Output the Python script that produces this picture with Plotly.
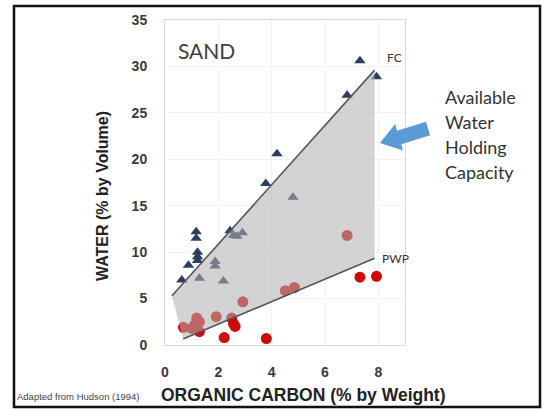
import plotly.graph_objects as go

# ---- data ----
fc_x = [0.63, 0.88, 1.17, 1.17, 1.22, 1.22, 1.22, 1.29, 1.88, 1.88, 2.19, 2.44, 2.57, 2.70, 2.90,
        3.78, 4.20, 4.80, 6.83, 7.31, 7.93]
fc_y = [7.0, 8.6, 12.2, 11.5, 10.0, 9.5, 9.1, 7.2, 9.0, 8.5, 6.9, 12.3, 11.8, 11.7, 12.1,
        17.4, 20.6, 15.9, 26.9, 30.6, 28.9]

pwp_x = [0.69, 1.00, 1.12, 1.19, 1.29, 1.29, 1.92, 2.22, 2.50, 2.57, 2.63, 2.92, 3.80,
         4.51, 4.85, 6.83, 7.31, 7.93]
pwp_y = [1.9, 1.8, 2.2, 2.9, 2.5, 1.45, 3.05, 0.8, 2.9, 2.3, 2.0, 4.65, 0.7,
         5.85, 6.2, 11.8, 7.3, 7.4]

# boundary lines of the available-water band
fc_line_x = [0.26, 7.86]
fc_line_y = [5.3, 29.6]
pwp_line_x = [0.68, 7.86]
pwp_line_y = [0.65, 9.35]

x_ticks = [0, 2, 4, 6, 8]
y_ticks = [0, 5, 10, 15, 20, 25, 30, 35]

# ---- layout geometry (pixels) ----
W, H = 548, 409
L, R, T, B = 165, 405, 20, 345


def px(xp):
    return (xp - L) / (R - L)


def py(yp):
    return (B - yp) / (B - T)


fig = go.Figure()

fig.add_trace(go.Scatter(x=fc_x, y=fc_y, mode="markers",
                         marker=dict(symbol="triangle-up", size=10, color="#2b3f5c"),
                         hoverinfo="skip", showlegend=False))
fig.add_trace(go.Scatter(x=pwp_x, y=pwp_y, mode="markers",
                         marker=dict(symbol="circle", size=11, color="#cc0a0a"),
                         hoverinfo="skip", showlegend=False))

# shaded band drawn over the markers (semi-transparent)
band_x = fc_line_x + pwp_line_x[::-1] + [fc_line_x[0]]
band_y = fc_line_y + pwp_line_y[::-1] + [fc_line_y[0]]
fig.add_trace(go.Scatter(x=band_x, y=band_y, mode="lines", fill="toself",
                         fillcolor="rgba(176,176,176,0.56)", line=dict(width=0),
                         hoverinfo="skip", showlegend=False))
fig.add_trace(go.Scatter(x=fc_line_x, y=fc_line_y, mode="lines",
                         line=dict(color="#555555", width=1.6),
                         hoverinfo="skip", showlegend=False))
fig.add_trace(go.Scatter(x=pwp_line_x, y=pwp_line_y, mode="lines",
                         line=dict(color="#555555", width=1.6),
                         hoverinfo="skip", showlegend=False))

# arrow (pixel geometry -> paper coords)
arrow_pts = [(380, 143), (403.0, 150.5), (401.2, 144.2), (430.1, 135.2), (425.9, 121.8),
             (397.0, 130.8), (395.2, 124.0)]
path = "M " + " L ".join(f"{px(a):.4f},{py(b):.4f}" for a, b in arrow_pts) + " Z"

shapes = [
    dict(type="path", xref="paper", yref="paper", path=path,
         fillcolor="#5b9bd5", line=dict(width=0)),
    dict(type="rect", xref="paper", yref="paper",
         x0=px(14), x1=px(540), y0=py(407), y1=py(6),
         line=dict(color="#111111", width=2.5)),
]

axis_font = dict(family="Liberation Sans, Arial", size=14, color="#3a3a3a", weight="bold")
annotations = [
    dict(text="SAND", x=px(176), y=py(50), xref="paper", yref="paper", xanchor="left",
         yanchor="middle", showarrow=False,
         font=dict(family="Lato, Open Sans", size=21, color="#404040")),
    dict(text="FC", x=px(385), y=py(58), xref="paper", yref="paper", xanchor="left",
         yanchor="middle", showarrow=False,
         font=dict(family="Lato, Open Sans", size=12, color="#333333")),
    dict(text="PWP", x=px(380), y=py(258), xref="paper", yref="paper", xanchor="left",
         yanchor="middle", showarrow=False,
         font=dict(family="Lato, Open Sans", size=12, color="#333333")),
    dict(text="WATER (% by Volume)", x=px(102), y=py(196), xref="paper", yref="paper",
         textangle=-90, xanchor="center", yanchor="middle", showarrow=False,
         font=dict(family="Liberation Sans, Arial", size=16, color="#222222", weight="bold")),
    dict(text="ORGANIC CARBON (% by Weight)", x=px(303), y=py(395), xref="paper",
         yref="paper", xanchor="center", yanchor="middle", showarrow=False,
         font=dict(family="Liberation Sans, Arial", size=17.5, color="#222222", weight="bold")),
    dict(text="Adapted from Hudson (1994)", x=px(15), y=py(396), xref="paper", yref="paper",
         xanchor="left", yanchor="middle", showarrow=False,
         font=dict(family="Liberation Sans Narrow, Liberation Sans", size=9.5, color="#444444")),
]
for i, word in enumerate(["Available", "Water", "Holding", "Capacity"]):
    annotations.append(dict(text=word, x=px(443), y=py(97 + 25 * i), xref="paper",
                            yref="paper", xanchor="left", yanchor="middle", showarrow=False,
                            font=dict(family="Lato, Open Sans", size=18, color="#333333")))

fig.update_layout(
    width=W, height=H,
    margin=dict(l=L, r=W - R, t=T, b=H - B),
    paper_bgcolor="white", plot_bgcolor="white",
    shapes=shapes, annotations=annotations,
    xaxis=dict(range=[0, 9], tickvals=x_ticks, ticktext=[str(v) for v in x_ticks],
               showgrid=True, gridcolor="#f1f1f1", zeroline=False,
               showline=True, linecolor="#d9d9d9", mirror=True,
               ticks="", ticklabelstandoff=14, tickfont=axis_font),
    yaxis=dict(range=[0, 35], tickvals=y_ticks, ticktext=[str(v) for v in y_ticks],
               showgrid=True, gridcolor="#f1f1f1", zeroline=False,
               showline=True, linecolor="#d9d9d9", mirror=True,
               ticks="", ticklabelstandoff=14, tickfont=axis_font),
)

fig.write_html("out.html", config={"displayModeBar": False},
               post_script="document.body.style.margin='0';document.body.style.overflow='hidden';")
